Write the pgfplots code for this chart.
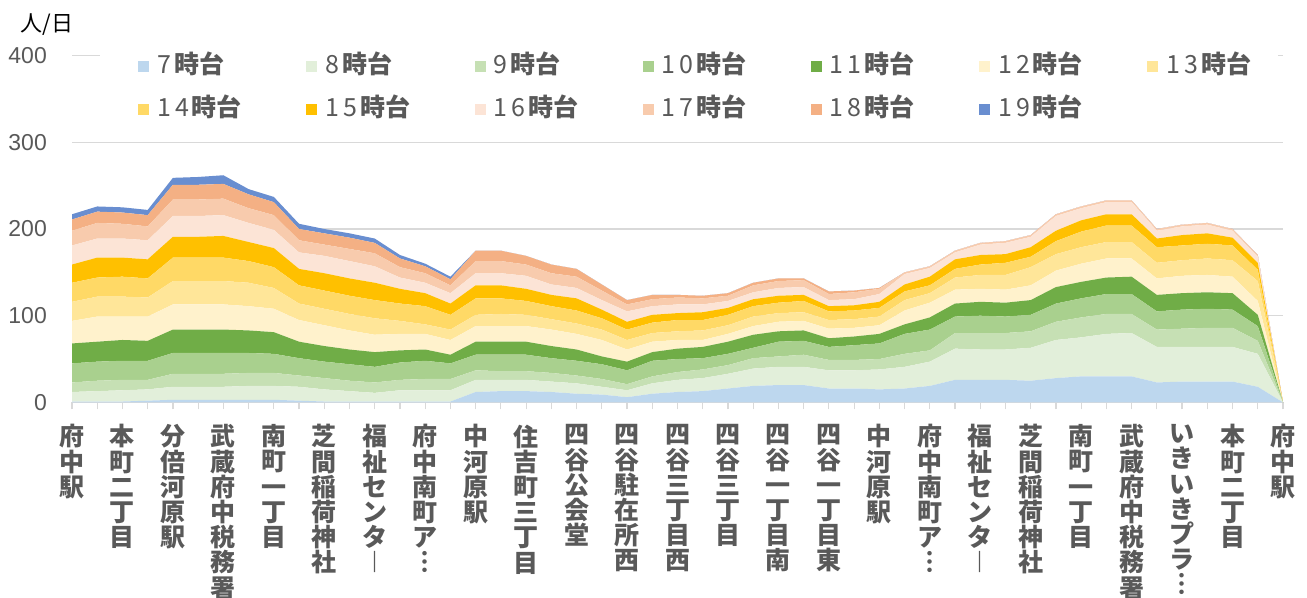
\documentclass[border=0pt]{standalone}
\usepackage{pgfplots}
\pgfplotsset{compat=1.18}
\usepackage{pgfplotstable}
\usepackage{fontspec}
\newfontfamily\cjk{Noto Sans CJK JP}
\newfontfamily\lib{Liberation Sans}
\definecolor{c7}{HTML}{BDD7EE}
\definecolor{c8}{HTML}{E2EFDA}
\definecolor{c9}{HTML}{C6E0B4}
\definecolor{c10}{HTML}{A9D08E}
\definecolor{c11}{HTML}{70AD47}
\definecolor{c12}{HTML}{FFF2CC}
\definecolor{c13}{HTML}{FFE699}
\definecolor{c14}{HTML}{FFD966}
\definecolor{c15}{HTML}{FFC000}
\definecolor{c16}{HTML}{FCE4D6}
\definecolor{c17}{HTML}{F8CBAD}
\definecolor{c18}{HTML}{F4B084}
\definecolor{c19}{HTML}{698ED0}
\definecolor{gridc}{HTML}{D9D9D9}
\definecolor{txt}{HTML}{595959}

\pgfplotstableread{
x h7 h8 h9 h10 h11 h12 h13 h14 h15 h16 h17 h18 h19
0 1 11 11 22 23 26 22 22 21 22 17 13 6
1 1 12 12 22 23 29 23 22 23 22 18 13 6
2 1 13 12 22 24 27 23 23 22 22 17 13 6
3 2 13 11 22 23 28 22 22 22 22 16 13 6
4 3 15 15 24 27 29 27 27 24 24 19 17 8
5 3 15 15 24 27 29 27 27 24 24 19 17 9
6 3 15 15 24 27 29 27 27 25 24 19 17 10
7 3 16 15 23 26 28 27 25 22 22 17 16 6
8 3 16 15 22 25 27 24 24 22 21 17 15 6
9 2 16 13 20 19 25 19 21 19 19 14 13 6
10 1 14 13 19 18 24 19 21 20 20 13 13 5
11 1 12 12 19 17 22 19 21 20 20 14 13 5
12 1 10 12 18 17 20 19 21 20 19 15 12 5
13 1 13 12 20 14 19 15 20 17 13 12 10 4
14 1 13 13 21 13 18 11 21 15 12 11 8 3
15 1 13 13 18 10 17 12 17 13 12 9 7 3
16 12 14 11 18 15 18 13 19 15 14 14 12 0
17 13 13 10 19 15 18 14 18 15 14 14 12 0
18 13 13 10 19 15 18 13 16 14 15 13 10 0
19 12 12 10 17 14 19 12 15 13 12 13 10 0
20 10 12 9 17 13 18 12 15 14 12 13 9 0
21 9 9 9 17 9 19 12 13 10 11 11 7 0
22 6 8 7 16 10 14 11 12 9 12 8 5 0
23 10 12 8 18 10 12 10 12 9 10 8 5 0
24 12 14 9 15 12 10 10 13 8 10 8 3 0
25 13 15 10 13 13 8 11 12 9 9 7 3 0
26 16 17 10 13 14 9 10 12 8 8 6 3 0
27 19 20 12 12 15 10 11 12 8 8 8 3 0
28 20 21 12 17 12 11 10 12 8 9 8 3 0
29 20 21 14 16 12 11 10 13 7 9 8 2 0
30 16 21 12 15 10 11 10 10 6 7 7 3 0
31 16 21 12 17 10 10 10 10 6 7 8 2 0
32 15 23 12 18 11 10 10 10 7 9 6 1 0
33 16 25 15 23 11 16 12 10 8 12 2 0 0
34 19 28 13 24 14 17 11 9 10 10 2 0 0
35 26 36 18 19 15 16 14 10 11 8 2 0 0
36 26 35 19 20 16 15 16 12 11 12 2 0 0
37 26 35 19 19 16 15 17 14 10 13 2 0 0
38 25 38 19 19 17 17 21 12 11 12 2 0 0
39 28 44 21 21 19 19 19 15 12 17 2 0 0
40 30 45 23 22 19 21 19 18 13 14 2 0 0
41 30 49 23 23 19 22 19 19 13 14 2 0 0
42 30 50 22 23 20 21 19 19 13 14 2 0 0
43 23 41 20 21 19 19 18 18 10 9 2 0 0
44 24 40 21 22 19 20 18 17 12 10 2 0 0
45 24 40 22 22 19 20 19 17 12 10 2 0 0
46 24 40 22 21 19 19 19 17 9 8 2 0 0
47 18 38 15 17 13 16 23 13 8 7 2 0 0
48 0 0 0 0 0 0 0 0 0 0 0 0 0
}\datatable

\newcommand{\lgent}[2]{\makebox[#1][l]{#2\kern3bp{\bfseries 時台}}}

\begin{document}
\begin{tikzpicture}
\path[use as bounding box] (0,0) rectangle (1307bp,598bp);
\begin{axis}[
  at={(72bp,195.6bp)}, anchor=south west,
  scale only axis, width=1211bp, height=346.8bp,
  xmin=0, xmax=48, ymin=0, ymax=400,
  clip=false,
  stack plots=y,
  axis x line*=bottom, axis y line*=left,
  x axis line style={draw=gridc, line width=1.5bp},
  y axis line style={draw=none},
  ytick={0,100,200,300,400},
  ytick style={draw=none},
  ymajorgrids, grid style={draw=gridc, line width=1.5bp},
  xtick={0,...,48},
  tick align=outside,
  major tick length=7bp,
  xtick style={draw=gridc, line width=1.2bp},
  xticklabels={{府\\中\\駅},{},{本\\町\\二\\丁\\目},{},{分\\倍\\河\\原\\駅},{},{武\\蔵\\府\\中\\税\\務\\署},{},{南\\町\\一\\丁\\目},{},{芝\\間\\稲\\荷\\神\\社},{},{福\\祉\\セ\\ン\\タ\\︱},{},{府\\中\\南\\町\\ア\\︙},{},{中\\河\\原\\駅},{},{住\\吉\\町\\三\\丁\\目},{},{四\\谷\\公\\会\\堂},{},{四\\谷\\駐\\在\\所\\西},{},{四\\谷\\三\\丁\\目\\西},{},{四\\谷\\三\\丁\\目},{},{四\\谷\\一\\丁\\目\\南},{},{四\\谷\\一\\丁\\目\\東},{},{中\\河\\原\\駅},{},{府\\中\\南\\町\\ア\\︙},{},{福\\祉\\セ\\ン\\タ\\︱},{},{芝\\間\\稲\\荷\\神\\社},{},{南\\町\\一\\丁\\目},{},{武\\蔵\\府\\中\\税\\務\\署},{},{い\\き\\い\\き\\プ\\ラ\\︙},{},{本\\町\\二\\丁\\目},{},{府\\中\\駅}},
  xticklabel style={anchor=north, align=center, inner sep=0bp, text=txt, yshift=-15bp,
    font=\cjk\bfseries\fontsize{25bp}{25.2bp}\selectfont},
  yticklabel style={anchor=east, inner sep=0bp, text=txt, xshift=-18bp,
    font=\lib\fontsize{23bp}{23bp}\selectfont},
  /pgf/number format/assume math mode=true,
  legend columns=7,
  legend image code/.code={\path[#1,draw=none] (0bp,-5.5bp) rectangle (11bp,5.5bp);},
  legend style={at={(axis description cs:0.02312,1.0306)}, anchor=north west,
    draw=none, fill=white, inner xsep=38bp, inner ysep=10bp,
    font=\cjk\fontsize{25bp}{25bp}\selectfont, text=txt,
    nodes={inner sep=0bp, text height=18bp, text depth=4bp},
    /tikz/every odd column/.append style={column sep=8bp},
    row sep=21bp},
]
\addplot[fill=c7, draw=none] table[x=x,y=h7]{\datatable} \closedcycle;
\addlegendentry{\lgent{149.2bp}{7}}
\addplot[fill=c8, draw=none] table[x=x,y=h8]{\datatable} \closedcycle;
\addlegendentry{\lgent{149.2bp}{8}}
\addplot[fill=c9, draw=none] table[x=x,y=h9]{\datatable} \closedcycle;
\addlegendentry{\lgent{149.2bp}{9}}
\addplot[fill=c10, draw=none] table[x=x,y=h10]{\datatable} \closedcycle;
\addlegendentry{\lgent{149.2bp}{1\kern4bp 0}}
\addplot[fill=c11, draw=none] table[x=x,y=h11]{\datatable} \closedcycle;
\addlegendentry{\lgent{149.2bp}{1\kern4bp 1}}
\addplot[fill=c12, draw=none] table[x=x,y=h12]{\datatable} \closedcycle;
\addlegendentry{\lgent{149.2bp}{1\kern4bp 2}}
\addplot[fill=c13, draw=none] table[x=x,y=h13]{\datatable} \closedcycle;
\addlegendentry{\lgent{74bp}{1\kern4bp 3}}
\addplot[fill=c14, draw=none] table[x=x,y=h14]{\datatable} \closedcycle;
\addlegendentry{\lgent{149.2bp}{1\kern4bp 4}}
\addplot[fill=c15, draw=none] table[x=x,y=h15]{\datatable} \closedcycle;
\addlegendentry{\lgent{149.2bp}{1\kern4bp 5}}
\addplot[fill=c16, draw=none] table[x=x,y=h16]{\datatable} \closedcycle;
\addlegendentry{\lgent{149.2bp}{1\kern4bp 6}}
\addplot[fill=c17, draw=none] table[x=x,y=h17]{\datatable} \closedcycle;
\addlegendentry{\lgent{149.2bp}{1\kern4bp 7}}
\addplot[fill=c18, draw=none] table[x=x,y=h18]{\datatable} \closedcycle;
\addlegendentry{\lgent{149.2bp}{1\kern4bp 8}}
\addplot[fill=c19, draw=none] table[x=x,y=h19]{\datatable} \closedcycle;
\addlegendentry{\lgent{149.2bp}{1\kern4bp 9}}
\node[font=\cjk\fontsize{22bp}{22bp}\selectfont, text=black] at (axis description cs:-0.0206,1.0882) {人/日};
\end{axis}
\end{tikzpicture}
\end{document}
